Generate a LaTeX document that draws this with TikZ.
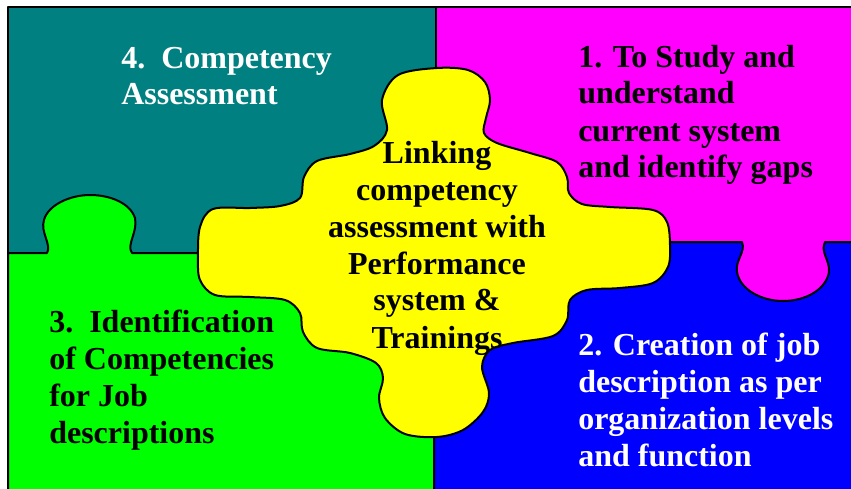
\documentclass[tikz,border=0pt]{standalone}
\usepackage{fontspec}
\setmainfont{Liberation Serif}
\definecolor{pteal}{RGB}{0,128,128}
\definecolor{pmag}{RGB}{255,0,255}
\definecolor{pyel}{RGB}{255,255,0}
\definecolor{pgreen}{RGB}{0,255,0}
\definecolor{pblue}{RGB}{0,0,255}
\begin{document}
\begin{tikzpicture}[x=0.75pt,y=-0.75pt,
  edge/.style={draw=black, line width=1.5pt, line join=round},
  lbl/.style={inner sep=0pt, font=\fontsize{24}{27.75}\selectfont\bfseries}]
\useasboundingbox (0,0) rectangle (851,489);
\begin{scope}
\clip (0,0) rectangle (851,489);
\fill[pteal] (8,7) rectangle (437,254);
\fill[pmag] (437,7) rectangle (860,320);
% green piece with tab
\filldraw[fill=pgreen, edge] (8,253) -- (47,253)
  .. controls (52,245) and (40,232) .. (44,220)
  .. controls (48,205) and (70,195) .. (90,195)
  .. controls (110,195) and (130,203) .. (135,218)
  .. controls (138,232) and (126,245) .. (132,253)
  -- (434,253) -- (434,500) -- (8,500) -- cycle;
% blue piece with slot (magenta tab)
\filldraw[fill=pblue, edge] (434,242) -- (742,242)
  .. controls (746,252) and (735,260) .. (737,272)
  .. controls (740,290) and (762,301) .. (783,301)
  .. controls (805,301) and (826,290) .. (829,272)
  .. controls (830,260) and (820,252) .. (825,242)
  -- (860,242) -- (860,500) -- (434,500) -- cycle;
\draw[edge] (436,7) -- (436,242);
\draw[edge] (8,7) rectangle (860,500);
% central yellow piece
\filldraw[fill=pyel, edge] plot[smooth cycle, tension=0.55] coordinates {
 (437,68) (468,70) (485,82) (490,100) (486,118) (484,133) (497,143)
 (530,153) (557,162) (567,177) (569,193) (582,204) (610,207) (653,210)
 (667,222) (670,245) (668,267) (653,283) (620,288) (587,290) (570,300)
 (567,320) (553,336) (513,343) (490,350) (482,367) (489,393) (483,412)
 (463,430) (437,437) (405,434) (385,418) (379,398) (383,378) (376,363)
 (350,353) (317,348) (303,332) (300,313) (285,300) (250,297) (215,295)
 (200,280) (198,257) (200,227) (213,209) (250,208) (280,206) (300,198)
 (304,177) (317,161) (350,154) (374,146) (387,130) (382,100) (398,75)};
\end{scope}
\node[lbl, text=white, anchor=base west] (t4) at (121,68)
  {\begin{tabular}[t]{@{}l@{}}4.\ \ Competency\\Assessment\end{tabular}};
\node[lbl, text=black, anchor=base west] (t1) at (578,67)
  {\begin{tabular}[t]{@{}l@{}}1. To Study and\\understand\\current system\\and identify gaps\end{tabular}};
\node[lbl, text=black, anchor=base] (tc) at (437,163)
  {\begin{tabular}[t]{@{}c@{}}Linking\\competency\\assessment with\\Performance\\system \&\\Trainings\end{tabular}};
\node[lbl, text=black, anchor=base west] (t3) at (49,332)
  {\begin{tabular}[t]{@{}l@{}}3.\ \ Identification\\of Competencies\\for Job\\descriptions\end{tabular}};
\node[lbl, text=white, anchor=base west] (t2) at (578,355)
  {\begin{tabular}[t]{@{}l@{}}2. Creation of job\\description as per\\organization levels\\and function\end{tabular}};
\end{tikzpicture}
\end{document}
